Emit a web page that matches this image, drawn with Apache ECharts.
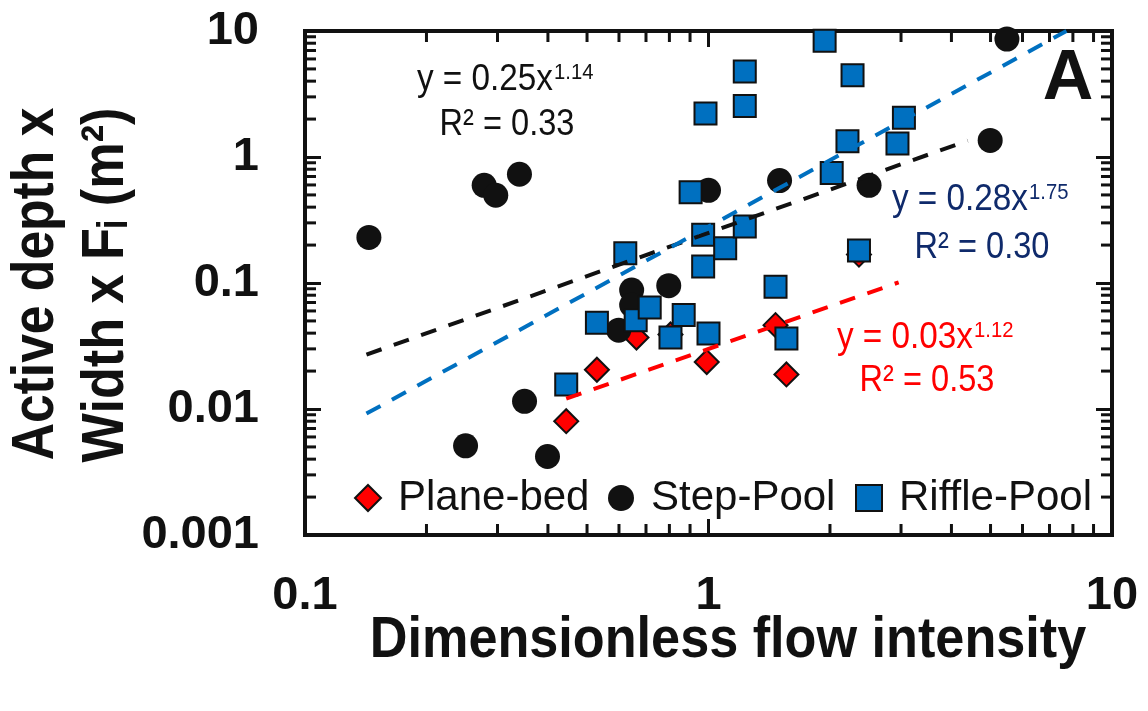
<!DOCTYPE html>
<html>
<head>
<meta charset="utf-8">
<script src="https://cdn.jsdelivr.net/npm/echarts@6/dist/echarts.min.js"></script>
<style>
  html, body { margin: 0; padding: 0; background: #fff; }
  #chart { width: 1148px; height: 711px; }
</style>
</head>
<body>
<div id="chart"></div>
<script>
// ---- data: dimensionless flow intensity (x) vs active depth x width x Fi (y) ----
const planeBedX   = [0.444, 0.529, 0.663, 0.805, 0.99, 1.466, 1.56, 2.36];
const planeBedY   = [0.0080, 0.0205, 0.0369, 0.039, 0.0236, 0.0463, 0.0188, 0.168];

const stepPoolX   = [0.144, 0.278, 0.297, 0.340, 0.250, 0.399, 0.350, 0.599, 0.645, 0.645, 0.797, 1.00, 1.50, 2.50, 4.99, 5.49];
const stepPoolY   = [0.23, 0.596, 0.497, 0.73, 0.0051, 0.0042, 0.0115, 0.0422, 0.0879, 0.0668, 0.0952, 0.544, 0.65, 0.596, 1.353, 8.63];

const rifflePoolX = [0.622, 0.903, 0.983, 0.97, 0.97, 1.10, 1.23, 1.23, 1.23, 1.94, 2.275, 3.05, 2.21, 2.94, 2.02, 2.36, 1.466, 1.56, 1.00, 0.444, 0.529, 0.66, 0.715, 0.805, 0.868];
const rifflePoolY = [0.1725, 0.524, 2.21, 0.241, 0.135, 0.189, 0.281, 4.77, 2.54, 8.37, 4.46, 2.05, 1.336, 1.28, 0.748, 0.181, 0.0935, 0.0362, 0.0398, 0.01567, 0.0483, 0.0507, 0.064, 0.0369, 0.0556];

// power-law fits y = a * x^b  (Step-Pool, Riffle-Pool, Plane-bed)
const fitCoef   = [0.25, 0.28, 0.03];
const fitExp    = [1.14, 1.75, 1.12];
const fitR2     = ['0.33', '0.30', '0.53'];
const fitXRange = [[0.142, 4.39], [0.142, 7.71], [0.444, 2.96]];

const xTickLabels = ['0.1', '1', '10'];
const yTickLabels = ['0.001', '0.01', '0.1', '1', '10'];
const seriesNames = ['Plane-bed', 'Step-Pool', 'Riffle-Pool'];

// ---- styling ----
const X_MIN = 0.1, X_MAX = 10, Y_MIN = 0.001, Y_MAX = 10;
const INK = '#111111';
const RED = '#ff0000';
const BLUE = '#0070c0';
const NAVY = '#0f2a6b';
const SANS = "'Liberation Sans', Arial, 'DejaVu Sans', sans-serif";
const MINOR_LEN = 11;

const zip = (xs, ys) => xs.map((x, i) => [x, ys[i]]);
const fitLine = (k) => fitXRange[k].map(x => [x, fitCoef[k] * Math.pow(x, fitExp[k])]);

// log-decade minor tick values (2..9 within each decade)
function minorValues(lo, hi) {
  const out = [];
  for (let d = lo; d < hi * 0.999; d *= 10) {
    for (let k = 2; k <= 9; k++) out.push(+(k * d).toPrecision(3));
  }
  return out;
}
const xMinor = minorValues(X_MIN, X_MAX);
const yMinor = minorValues(Y_MIN, Y_MAX);

const tickLine = (x1, y1, x2, y2) => ({
  type: 'line', shape: { x1, y1, x2, y2 }, style: { stroke: INK, lineWidth: 3 }
});

const chart = echarts.init(document.getElementById('chart'), null, { renderer: 'canvas' });

const commonLegend = {
  orient: 'horizontal', padding: 0, itemWidth: 26, itemHeight: 26,
  selectedMode: false, top: 477,
  textStyle: { fontSize: 42, color: INK, fontFamily: SANS, lineHeight: 26, padding: [0, 0, 0, 12] }
};

function eqText(x, y, text, color, size, align, scale) {
  return {
    type: 'text', x, y, scaleX: scale, z: 100, silent: true,
    style: { text, fill: color, fontSize: size, fontFamily: SANS, align, verticalAlign: 'middle' }
  };
}

const eqColors = [INK, NAVY, RED];
// [main right edge x, main centre y, R2 centre x, R2 centre y]
const eqPlace = [[553, 80, 507, 125], [1028, 200, 982, 248], [973, 338, 927, 381]];
const eqGraphics = [];
for (let k = 0; k < 3; k++) {
  const [mx, my, rx, ry] = eqPlace[k];
  eqGraphics.push(eqText(mx, my, 'y = ' + fitCoef[k].toFixed(2) + 'x', eqColors[k], 37, 'right', 0.9));
  eqGraphics.push(eqText(mx + 1, my - 7, fitExp[k].toFixed(2), eqColors[k], 22, 'left', 0.92));
  eqGraphics.push(eqText(rx, ry, 'R\u00b2 = ' + fitR2[k], eqColors[k], 37, 'center', 0.88));
}

const tickAxisStyle = { show: true, inside: true, length: 16, lineStyle: { color: INK, width: 3 } };

const option = {
  animation: false,
  backgroundColor: '#ffffff',
  grid: { left: 305, top: 31, width: 807, height: 504, show: true, borderColor: INK, borderWidth: 4, containLabel: false },
  xAxis: [
    {
      type: 'log', logBase: 10, min: X_MIN, max: X_MAX, position: 'bottom',
      axisLine: { show: false }, axisTick: tickAxisStyle, splitLine: { show: false },
      axisLabel: {
        margin: 38, color: INK, fontSize: 47, fontWeight: 'bold', fontFamily: SANS,
        formatter: v => xTickLabels[Math.round(Math.log10(v)) + 1]
      }
    },
    {
      type: 'log', logBase: 10, min: X_MIN, max: X_MAX, position: 'top',
      axisLine: { show: false }, axisTick: tickAxisStyle, splitLine: { show: false },
      axisLabel: { show: false }
    }
  ],
  yAxis: [
    {
      type: 'log', logBase: 10, min: Y_MIN, max: Y_MAX, position: 'left', splitNumber: 4,
      axisLine: { show: false }, axisTick: tickAxisStyle, splitLine: { show: false },
      axisLabel: {
        margin: 46, color: INK, fontSize: 47, fontWeight: 'bold', fontFamily: SANS,
        formatter: v => yTickLabels[Math.round(Math.log10(v)) + 3]
      }
    },
    {
      type: 'log', logBase: 10, min: Y_MIN, max: Y_MAX, position: 'right', splitNumber: 4,
      axisLine: { show: false }, axisTick: tickAxisStyle, splitLine: { show: false },
      axisLabel: { show: false }
    }
  ],
  legend: [
    Object.assign({ data: [seriesNames[0]], left: 354 }, commonLegend),
    Object.assign({ data: [seriesNames[1]], left: 608 }, commonLegend),
    Object.assign({ data: [seriesNames[2]], left: 855 }, commonLegend)
  ],
  series: [
    {
      type: 'custom', silent: true, clip: false, z: 1,
      data: xMinor.map(v => [v, Y_MIN]),
      renderItem: (params, api) => {
        const v = api.value(0);
        const b = api.coord([v, Y_MIN]);
        const t = api.coord([v, Y_MAX]);
        return { type: 'group', children: [
          tickLine(b[0], b[1], b[0], b[1] - MINOR_LEN),
          tickLine(t[0], t[1], t[0], t[1] + MINOR_LEN)
        ] };
      }
    },
    {
      type: 'custom', silent: true, clip: false, z: 1,
      data: yMinor.map(v => [X_MIN, v]),
      renderItem: (params, api) => {
        const v = api.value(1);
        const l = api.coord([X_MIN, v]);
        const r = api.coord([X_MAX, v]);
        return { type: 'group', children: [
          tickLine(l[0], l[1], l[0] + MINOR_LEN, l[1]),
          tickLine(r[0], r[1], r[0] - MINOR_LEN, r[1])
        ] };
      }
    },
    {
      name: seriesNames[0], type: 'scatter', symbol: 'diamond', symbolSize: 24, z: 2,
      itemStyle: { color: RED, borderColor: INK, borderWidth: 2, opacity: 1 },
      emphasis: { disabled: true },
      data: zip(planeBedX, planeBedY)
    },
    {
      name: seriesNames[1], type: 'scatter', symbol: 'circle', symbolSize: 25, z: 2,
      itemStyle: { color: INK, borderColor: INK, borderWidth: 0, opacity: 1 },
      emphasis: { disabled: true },
      data: zip(stepPoolX, stepPoolY)
    },
    {
      name: seriesNames[2], type: 'scatter', symbol: 'rect', symbolSize: 22, z: 2,
      itemStyle: { color: BLUE, borderColor: INK, borderWidth: 2, opacity: 1 },
      emphasis: { disabled: true },
      data: zip(rifflePoolX, rifflePoolY)
    },
    {
      name: 'Step-Pool fit', type: 'line', symbol: 'none', z: 3, silent: true,
      lineStyle: { color: INK, width: 4, type: [16, 13] },
      data: fitLine(0)
    },
    {
      name: 'Riffle-Pool fit', type: 'line', symbol: 'none', z: 3, silent: true,
      lineStyle: { color: BLUE, width: 4, type: [16, 13] },
      data: fitLine(1)
    },
    {
      name: 'Plane-bed fit', type: 'line', symbol: 'none', z: 3, silent: true,
      lineStyle: { color: RED, width: 4, type: [16, 13] },
      data: fitLine(2)
    }
  ],
  graphic: [
    // panel letter
    {
      type: 'text', x: 1068, y: 80, z: 100, silent: true,
      style: { text: 'A', fill: INK, fontSize: 70, fontWeight: 'bold', fontFamily: SANS, align: 'center', verticalAlign: 'middle' }
    },
    // x-axis title
    {
      type: 'text', x: 728, y: 641, scaleX: 0.9, z: 100, silent: true,
      style: { text: 'Dimensionless flow intensity', fill: INK, fontSize: 58, fontWeight: 'bold', fontFamily: SANS, align: 'center', verticalAlign: 'middle' }
    },
    // y-axis title, two lines reading bottom to top
    {
      type: 'text', x: 36, y: 284, rotation: Math.PI / 2, scaleX: 0.86, z: 100, silent: true,
      style: { text: 'Active depth x', fill: INK, fontSize: 60, fontWeight: 'bold', fontFamily: SANS, align: 'center', verticalAlign: 'middle' }
    },
    {
      type: 'text', x: 106, y: 285, rotation: Math.PI / 2, scaleX: 0.87, z: 100, silent: true,
      style: { text: 'Width x F\u1d62 (m\u00b2)', fill: INK, fontSize: 60, fontWeight: 'bold', fontFamily: SANS, align: 'center', verticalAlign: 'middle' }
    }
  ].concat(eqGraphics)
};

chart.setOption(option);
</script>
</body>
</html>
